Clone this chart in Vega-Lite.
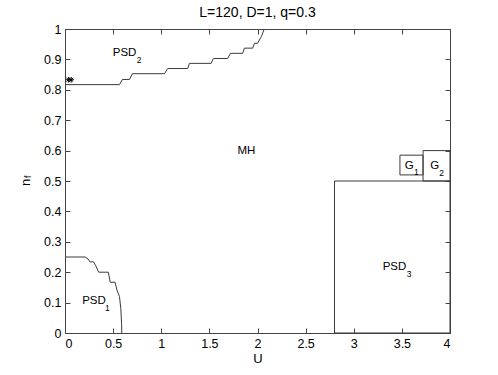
{
  "$schema": "https://vega.github.io/schema/vega-lite/v6.json",
  "width": 385,
  "height": 304,
  "autosize": {"type": "none"},
  "padding": {"left": 65, "top": 29, "right": 48, "bottom": 42},
  "background": "white",
  "title": {
    "text": "L=120, D=1, q=0.3",
    "font": "Liberation Sans",
    "fontSize": 14,
    "fontWeight": "normal",
    "color": "#000",
    "anchor": "middle",
    "frame": "group",
    "offset": 3
  },
  "config": {
    "view": {"stroke": "#444", "strokeWidth": 1},
    "axis": {
      "labelFont": "Liberation Sans",
      "labelFontSize": 12.5,
      "labelColor": "#000",
      "titleFont": "Liberation Sans",
      "titleFontSize": 13,
      "titleFontWeight": "normal",
      "titleColor": "#000",
      "domain": false,
      "grid": false,
      "tickColor": "#444",
      "tickSize": -5,
      "tickWidth": 1,
      "labelPadding": 9,
      "format": "~g"
    },
    "text": {"font": "Liberation Sans", "color": "#000"}
  },
  "datasets": {
    "curves": [
      {"series": "PSD2", "i": 0, "U": 0, "nf": 0.817},
      {"series": "PSD2", "i": 1, "U": 0.566, "nf": 0.817},
      {"series": "PSD2", "i": 2, "U": 0.597, "nf": 0.834},
      {"series": "PSD2", "i": 3, "U": 0.67, "nf": 0.834},
      {"series": "PSD2", "i": 4, "U": 0.7, "nf": 0.853},
      {"series": "PSD2", "i": 5, "U": 1.033, "nf": 0.853},
      {"series": "PSD2", "i": 6, "U": 1.067, "nf": 0.87},
      {"series": "PSD2", "i": 7, "U": 1.275, "nf": 0.87},
      {"series": "PSD2", "i": 8, "U": 1.293, "nf": 0.887},
      {"series": "PSD2", "i": 9, "U": 1.518, "nf": 0.887},
      {"series": "PSD2", "i": 10, "U": 1.542, "nf": 0.903},
      {"series": "PSD2", "i": 11, "U": 1.69, "nf": 0.903},
      {"series": "PSD2", "i": 12, "U": 1.719, "nf": 0.92},
      {"series": "PSD2", "i": 13, "U": 1.846, "nf": 0.92},
      {"series": "PSD2", "i": 14, "U": 1.864, "nf": 0.937},
      {"series": "PSD2", "i": 15, "U": 1.95, "nf": 0.937},
      {"series": "PSD2", "i": 16, "U": 1.968, "nf": 0.953},
      {"series": "PSD2", "i": 17, "U": 2.0, "nf": 0.953},
      {"series": "PSD2", "i": 18, "U": 2.04, "nf": 0.975},
      {"series": "PSD2", "i": 19, "U": 2.07, "nf": 1.0},
      {"series": "PSD1", "i": 0, "U": 0, "nf": 0.25},
      {"series": "PSD1", "i": 1, "U": 0.21, "nf": 0.25},
      {"series": "PSD1", "i": 2, "U": 0.24, "nf": 0.243},
      {"series": "PSD1", "i": 3, "U": 0.26, "nf": 0.234},
      {"series": "PSD1", "i": 4, "U": 0.296, "nf": 0.234},
      {"series": "PSD1", "i": 5, "U": 0.317, "nf": 0.223},
      {"series": "PSD1", "i": 6, "U": 0.35, "nf": 0.2},
      {"series": "PSD1", "i": 7, "U": 0.45, "nf": 0.2},
      {"series": "PSD1", "i": 8, "U": 0.47, "nf": 0.167},
      {"series": "PSD1", "i": 9, "U": 0.52, "nf": 0.167},
      {"series": "PSD1", "i": 10, "U": 0.54, "nf": 0.141},
      {"series": "PSD1", "i": 11, "U": 0.566, "nf": 0.12},
      {"series": "PSD1", "i": 12, "U": 0.58, "nf": 0.08},
      {"series": "PSD1", "i": 13, "U": 0.588, "nf": 0.03},
      {"series": "PSD1", "i": 14, "U": 0.59, "nf": 0}
    ],
    "boxes": [
      {"name": "PSD3", "U1": 2.8, "U2": 4, "n1": 0, "n2": 0.5},
      {"name": "G1", "U1": 3.48, "U2": 3.72, "n1": 0.52, "n2": 0.585},
      {"name": "G2", "U1": 3.72, "U2": 4, "n1": 0.5, "n2": 0.6}
    ],
    "stars": [
      {"U": 0.035, "nf": 0.833},
      {"U": 0.065, "nf": 0.833}
    ],
    "labels": [
      {"label": "PSD", "U": 0.496, "nf": 0.92},
      {"label": "PSD", "U": 0.178, "nf": 0.106},
      {"label": "PSD", "U": 3.30, "nf": 0.218},
      {"label": "G", "U": 3.53, "nf": 0.548},
      {"label": "G", "U": 3.795, "nf": 0.55}
    ],
    "subs": [
      {"label": "2", "U": 0.745, "nf": 0.897},
      {"label": "1", "U": 3.625, "nf": 0.529},
      {"label": "1", "U": 0.415, "nf": 0.082},
      {"label": "3", "U": 3.55, "nf": 0.193},
      {"label": "2", "U": 3.888, "nf": 0.527}
    ],
    "center": [
      {"label": "MH", "U": 1.885, "nf": 0.6}
    ],
    "ytitle": [
      {"label": "f", "U": -0.389, "nf": 0.514}
    ]
  },
  "layer": [
    {
      "data": {"name": "curves"},
      "mark": {"type": "line", "color": "#3a3a3a", "strokeWidth": 1},
      "encoding": {
        "x": {
          "field": "U", "type": "quantitative",
          "scale": {"domain": [0, 4], "nice": false, "zero": false},
          "axis": {"values": [0, 0.5, 1, 1.5, 2, 2.5, 3, 3.5, 4], "title": "U", "titleY": 25, "titleBaseline": "middle"}
        },
        "y": {
          "field": "nf", "type": "quantitative",
          "scale": {"domain": [0, 1], "nice": false, "zero": false},
          "axis": {"values": [0, 0.1, 0.2, 0.3, 0.4, 0.5, 0.6, 0.7, 0.8, 0.9, 1], "title": "n", "titleX": -40, "titleY": 153, "titleAlign": "center", "titleBaseline": "middle", "labelPadding": 9}
        },
        "detail": {"field": "series"},
        "order": {"field": "i", "type": "quantitative"}
      }
    },
    {
      "data": {"name": "boxes"},
      "mark": {"type": "rect", "fill": null, "fillOpacity": 0, "stroke": "#3a3a3a", "strokeWidth": 1},
      "encoding": {
        "x": {"field": "U1", "type": "quantitative", "axis": {"orient": "top", "values": [0, 0.5, 1, 1.5, 2, 2.5, 3, 3.5, 4], "labels": false, "title": null}},
        "x2": {"field": "U2"},
        "y": {"field": "n1", "type": "quantitative", "axis": {"orient": "right", "values": [0, 0.1, 0.2, 0.3, 0.4, 0.5, 0.6, 0.7, 0.8, 0.9, 1], "labels": false, "title": null}},
        "y2": {"field": "n2"}
      }
    },
    {
      "data": {"name": "stars"},
      "mark": {"type": "point", "shape": "M-1,0L1,0M0,-1L0,1M-0.7,-0.7L0.7,0.7M-0.7,0.7L0.7,-0.7", "size": 30, "stroke": "#000", "strokeWidth": 1, "filled": false, "opacity": 1},
      "encoding": {
        "x": {"field": "U", "type": "quantitative", "axis": null},
        "y": {"field": "nf", "type": "quantitative", "axis": null}
      }
    },
    {
      "data": {"name": "labels"},
      "mark": {"type": "text", "align": "left", "baseline": "middle", "fontSize": 11.5},
      "encoding": {
        "x": {"field": "U", "type": "quantitative", "axis": null},
        "y": {"field": "nf", "type": "quantitative", "axis": null},
        "text": {"field": "label"}
      }
    },
    {
      "data": {"name": "subs"},
      "mark": {"type": "text", "align": "left", "baseline": "middle", "fontSize": 8.5},
      "encoding": {
        "x": {"field": "U", "type": "quantitative", "axis": null},
        "y": {"field": "nf", "type": "quantitative", "axis": null},
        "text": {"field": "label"}
      }
    },
    {
      "data": {"name": "center"},
      "mark": {"type": "text", "align": "center", "baseline": "middle", "fontSize": 11.5},
      "encoding": {
        "x": {"field": "U", "type": "quantitative", "axis": null},
        "y": {"field": "nf", "type": "quantitative", "axis": null},
        "text": {"field": "label"}
      }
    },
    {
      "data": {"name": "ytitle"},
      "mark": {"type": "text", "align": "center", "baseline": "middle", "angle": 270, "fontSize": 9},
      "encoding": {
        "x": {"field": "U", "type": "quantitative", "axis": null},
        "y": {"field": "nf", "type": "quantitative", "axis": null},
        "text": {"field": "label"}
      }
    }
  ],
  "resolve": {"axis": {"x": "independent", "y": "independent"}}
}
